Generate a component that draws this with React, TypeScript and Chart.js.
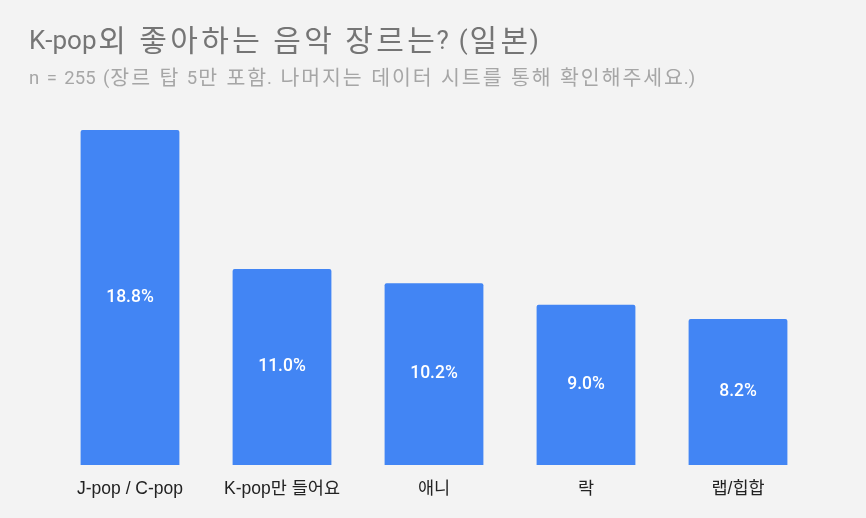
import React, { useEffect, useRef } from 'react';
import Chart, { ChartConfiguration, Plugin } from 'chart.js/auto';

const genres: string[] = ['J-pop / C-pop', 'K-pop만 들어요', '애니', '락', '랩/힙합'];
const shares: number[] = [18.8, 11.0, 10.2, 9.0, 8.2];
const titleText = 'K-pop외 좋아하는 음악 장르는? (일본)';
const subtitleText = 'n = 255 (장르 탑 5만 포함. 나머지는 데이터 시트를 통해 확인해주세요.)';

const BG = '#f3f3f3';
const BAR = '#4285f4';
const HANGUL = /[\u1100-\u11ff\u3130-\u318f\uac00-\ud7af]/;

// draws latin and hangul with separate fonts so the spacing follows the original
function drawMixed(
  ctx: CanvasRenderingContext2D,
  text: string,
  x: number,
  y: number,
  latinSize: number,
  hangulSize: number,
  hangulAdvance: number,
  spaceWidth: number,
) {
  const latinFont = `${latinSize}px Roboto, sans-serif`;
  const hangulFont = `${hangulSize}px "Noto Sans CJK KR", sans-serif`;
  let cx = x;
  for (const ch of text) {
    if (ch === ' ') {
      cx += spaceWidth;
      continue;
    }
    if (HANGUL.test(ch)) {
      ctx.font = hangulFont;
      const w = ctx.measureText(ch).width;
      ctx.fillText(ch, cx + (hangulAdvance - w) / 2, y + hangulSize * 0.06);
      cx += hangulAdvance;
    } else {
      ctx.font = latinFont;
      ctx.fillText(ch, cx, y);
      cx += ctx.measureText(ch).width;
    }
  }
}

const decorations: Plugin<'bar'> = {
  id: 'decorations',
  beforeDraw(chart) {
    const { ctx, width, height } = chart;
    ctx.save();
    ctx.fillStyle = BG;
    ctx.fillRect(0, 0, width, height);
    ctx.textAlign = 'left';
    ctx.textBaseline = 'alphabetic';
    ctx.fillStyle = '#757575';
    drawMixed(ctx, titleText, 29, 49, 26, 30, 31, 10);
    ctx.fillStyle = '#a6a6a6';
    drawMixed(ctx, subtitleText, 29, 84, 18.5, 20.5, 20.8, 7.5);
    ctx.restore();
  },
  afterDatasetsDraw(chart) {
    const { ctx } = chart;
    const meta = chart.getDatasetMeta(0);
    ctx.save();
    ctx.fillStyle = '#ffffff';
    ctx.font = '500 17.5px Roboto, sans-serif';
    ctx.textAlign = 'center';
    ctx.textBaseline = 'middle';
    meta.data.forEach((el: any, i: number) => {
      const mid = (el.y + el.base) / 2;
      ctx.fillText(shares[i].toFixed(1) + '%', el.x, mid);
    });
    ctx.restore();
  },
};

const App: React.FC = () => {
  const canvasRef = useRef<HTMLCanvasElement>(null);
  const chartRef = useRef<Chart<'bar'>>();

  useEffect(() => {
    document.body.style.margin = '0';
    document.body.style.background = BG;
    if (!canvasRef.current) return;
    const ctx = canvasRef.current.getContext('2d');
    if (!ctx) return;
    if (chartRef.current) chartRef.current.destroy();

    const config: ChartConfiguration<'bar'> = {
      type: 'bar',
      data: {
        labels: genres,
        datasets: [
          {
            data: shares,
            backgroundColor: BAR,
            borderRadius: { topLeft: 2, topRight: 2 },
            borderSkipped: 'bottom',
            categoryPercentage: 1,
            barPercentage: 0.65,
          },
        ],
      },
      options: {
        animation: false,
        responsive: false,
        layout: { padding: { left: 54, right: 52, top: 130, bottom: 12 } },
        plugins: {
          legend: { display: false },
          tooltip: { enabled: false },
          title: { display: false },
        },
        scales: {
          x: {
            grid: { display: false },
            border: { display: false },
            ticks: {
              color: '#222222',
              font: { family: 'Arial, "Liberation Sans", "Noto Sans CJK KR", sans-serif', size: 17.5 },
              padding: 6,
              maxRotation: 0,
            },
          },
          y: {
            display: false,
            min: 0,
            max: 18.8,
          },
        },
      },
      plugins: [decorations],
    };

    chartRef.current = new Chart(ctx, config);
    return () => {
      if (chartRef.current) {
        chartRef.current.destroy();
        chartRef.current = undefined;
      }
    };
  }, []);

  return <canvas ref={canvasRef} width={866} height={518} style={{ display: 'block' }} />;
};

export default App;
